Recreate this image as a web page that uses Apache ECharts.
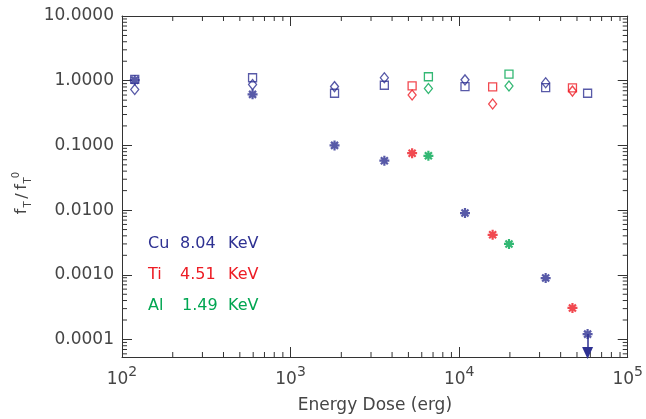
<!DOCTYPE html>
<html>
<head>
<meta charset="utf-8">
<script src="https://cdn.jsdelivr.net/npm/echarts@6/dist/echarts.min.js"></script>
<style>
  html, body { margin: 0; padding: 0; background: #fff; }
  #chart { width: 646px; height: 419px; }
</style>
</head>
<body>
<div id="chart"></div>
<script>
// legend rows
const elements = ['Cu', 'Ti', 'Al']
const energies = ['8.04', '4.51', '1.49']
const colors = ['#2e3192', '#ed1c24', '#00a651']

// Cu 8.04 KeV
const cuDose = [119, 595, 1823, 3600, 10830, 32600, 57800]
const cuStar = [1.02, 0.615, 0.100, 0.058, 0.0090, 0.00089, 0.000121]
const cuSquare = [1.05, 1.11, 0.64, 0.85, 0.81, 0.78, 0.64]
const cuDiamondDose = [119, 595, 1823, 3600, 10830, 32600]
const cuDiamond = [0.73, 0.87, 0.81, 1.11, 1.03, 0.93]
// upper limit arrow on last Cu point
const cuLimitDose = 57800
const cuLimitFrom = 0.000121
const cuLimitTo = 0.000062

// Ti 4.51 KeV
const tiDose = [5260, 15800, 47000]
const tiStar = [0.0757, 0.00415, 0.000307]
const tiSquare = [0.83, 0.80, 0.776]
const tiDiamond = [0.60, 0.435, 0.69]

// Al 1.49 KeV
const alDose = [6570, 19750]
const alStar = [0.069, 0.0030]
const alSquare = [1.15, 1.26]
const alDiamond = [0.76, 0.83]

// axes
const xMin = 100
const xMax = 100000
const yMin = 0.0000536
const yMax = 10
const xTickExponents = [2, 3, 4, 5]
const yTickLabels = ['0.0001', '0.0010', '0.0100', '0.1000', '1.0000', '10.0000']

const textColor = '#454545'
const axisColor = '#333'
const font = 'DejaVu Sans'

const starPath = 'path://M0,5L10,5M5,0L5,10M1.5,1.5L8.5,8.5M8.5,1.5L1.5,8.5'

function pairs (xs, ys) {
  return xs.map((x, i) => [x, ys[i]])
}

function scatter (xs, ys, color, shape) {
  let s = {
    type: 'scatter',
    data: pairs(xs, ys),
    silent: true,
    emphasis: { disabled: true }
  }
  if (shape === 'star') {
    s.symbol = starPath
    s.symbolSize = 10
    s.itemStyle = { color: color, borderColor: color, borderWidth: 2.2 }
    s.z = 4
  } else if (shape === 'square') {
    s.symbol = 'rect'
    s.symbolSize = 8
    s.itemStyle = { color: 'transparent', borderColor: color, borderWidth: 1.3 }
    s.z = 3
  } else {
    s.symbol = 'diamond'
    s.symbolSize = [8, 10]
    s.itemStyle = { color: 'transparent', borderColor: color, borderWidth: 1.3 }
    s.z = 3
  }
  return s
}

function isDecade (v) {
  let e = Math.log10(v)
  return Math.abs(e - Math.round(e)) < 1e-6
}

// minor tick positions (2..9 of each decade)
let minorTicks = []
for (let k = 2; k < 5; k++) {
  for (let m = 2; m <= 9; m++) minorTicks.push([m * Math.pow(10, k), yMin, 0])
}
for (let k = -5; k < 1; k++) {
  for (let m = 2; m <= 9; m++) {
    let v = m * Math.pow(10, k)
    if (v > yMin && v < yMax) minorTicks.push([xMin, v, 1])
  }
}

function baseAxis (extra) {
  return Object.assign({
    type: 'log',
    logBase: 10,
    axisLine: { show: true, onZero: false, lineStyle: { color: axisColor, width: 1 } },
    axisTick: { show: true, inside: true, length: 10, lineStyle: { color: axisColor } },
    splitLine: { show: false },
    minorTick: { show: false }
  }, extra)
}

let chart = echarts.init(document.getElementById('chart'), null, { renderer: 'canvas' })

chart.setOption({
  animation: false,
  backgroundColor: '#fff',
  grid: { left: 122, right: 17, top: 16, bottom: 53, containLabel: false },
  xAxis: [
    baseAxis({
      position: 'bottom',
      min: xMin,
      max: xMax,
      name: 'Energy Dose (erg)',
      nameLocation: 'middle',
      nameGap: 40,
      nameTextStyle: { fontFamily: font, fontSize: 17, color: textColor },
      axisLabel: {
        margin: 8,
        formatter: function (v) {
          let e = Math.round(Math.log10(v))
          if (!isDecade(v) || xTickExponents.indexOf(e) < 0) return ''
          return '{b|10}{s|' + e + '}'
        },
        rich: {
          b: { fontFamily: font, fontSize: 17, lineHeight: 30, color: textColor },
          s: { fontFamily: font, fontSize: 14, lineHeight: 14, verticalAlign: 'top', color: textColor }
        }
      }
    }),
    baseAxis({
      position: 'top',
      min: xMin,
      max: xMax,
      axisLabel: { show: false }
    })
  ],
  yAxis: [
    baseAxis({
      position: 'left',
      min: yMin,
      max: yMax,
      axisLabel: {
        margin: 8,
        fontFamily: font,
        fontSize: 17,
        color: textColor,
        formatter: function (v) {
          if (!isDecade(v)) return ''
          let e = Math.round(Math.log10(v))
          return yTickLabels[e + 4] || ''
        }
      }
    }),
    baseAxis({
      position: 'right',
      min: yMin,
      max: yMax,
      axisLabel: { show: false }
    })
  ],
  graphic: [
    {
      type: 'group',
      x: 28,
      y: 214,
      rotation: Math.PI / 2,
      children: [
        { type: 'text', x: 2.5, y: -6, style: { text: 'f', fontFamily: font, fontSize: 16, fill: textColor, align: 'center', verticalAlign: 'middle' } },
        { type: 'text', x: 9.5, y: 0, style: { text: 'T', fontFamily: font, fontSize: 10, fill: textColor, align: 'center', verticalAlign: 'middle' } },
        { type: 'text', x: 18, y: -5.5, style: { text: '/', fontFamily: font, fontSize: 16, fill: textColor, align: 'center', verticalAlign: 'middle' } },
        { type: 'text', x: 27, y: -6, style: { text: 'f', fontFamily: font, fontSize: 16, fill: textColor, align: 'center', verticalAlign: 'middle' } },
        { type: 'text', x: 33.5, y: 0, style: { text: 'T', fontFamily: font, fontSize: 10, fill: textColor, align: 'center', verticalAlign: 'middle' } },
        { type: 'text', x: 39, y: -12, style: { text: '0', fontFamily: font, fontSize: 10, fill: textColor, align: 'center', verticalAlign: 'middle' } }
      ]
    }
  ].concat(elements.map((el, i) => ({
    type: 'group',
    x: 148,
    y: 244 + i * 31,
    children: [
      { type: 'text', x: 0, y: 0, style: { text: el, fontFamily: font, fontSize: 16, fill: colors[i], verticalAlign: 'middle' } },
      { type: 'text', x: i === 2 ? 34 : 32, y: 0, style: { text: energies[i], fontFamily: font, fontSize: 16, fill: colors[i], verticalAlign: 'middle' } },
      { type: 'text', x: 80, y: 0, style: { text: 'KeV', fontFamily: font, fontSize: 16, fill: colors[i], verticalAlign: 'middle' } }
    ]
  }))),
  series: [
    {
      type: 'custom',
      silent: true,
      z: 1,
      encode: { x: 0, y: 1 },
      data: minorTicks,
      renderItem: function (params, api) {
        let cs = params.coordSys
        let p = api.coord([api.value(0), api.value(1)])
        let st = { stroke: axisColor, lineWidth: 1 }
        if (api.value(2) === 0) {
          let b = cs.y + cs.height
          return {
            type: 'group',
            children: [
              { type: 'line', shape: { x1: p[0], y1: b, x2: p[0], y2: b - 5 }, style: st },
              { type: 'line', shape: { x1: p[0], y1: cs.y, x2: p[0], y2: cs.y + 5 }, style: st }
            ]
          }
        }
        let r = cs.x + cs.width
        return {
          type: 'group',
          children: [
            { type: 'line', shape: { x1: cs.x, y1: p[1], x2: cs.x + 5, y2: p[1] }, style: st },
            { type: 'line', shape: { x1: r, y1: p[1], x2: r - 5, y2: p[1] }, style: st }
          ]
        }
      }
    },
    scatter(cuDiamondDose, cuDiamond, colors[0], 'diamond'),
    scatter(cuDose, cuSquare, colors[0], 'square'),
    scatter(tiDose, tiDiamond, colors[1], 'diamond'),
    scatter(tiDose, tiSquare, colors[1], 'square'),
    scatter(alDose, alDiamond, colors[2], 'diamond'),
    scatter(alDose, alSquare, colors[2], 'square'),
    Object.assign(scatter(cuDose, cuStar, colors[0], 'star'), {
      markLine: {
        silent: true,
        symbol: ['none', 'triangle'],
        symbolSize: [11, 12],
        label: { show: false },
        lineStyle: { color: colors[0], width: 1.5, type: 'solid' },
        data: [[{ coord: [cuLimitDose, cuLimitFrom] }, { coord: [cuLimitDose, cuLimitTo] }]]
      }
    }),
    scatter(tiDose, tiStar, colors[1], 'star'),
    scatter(alDose, alStar, colors[2], 'star')
  ]
})
</script>
</body>
</html>
